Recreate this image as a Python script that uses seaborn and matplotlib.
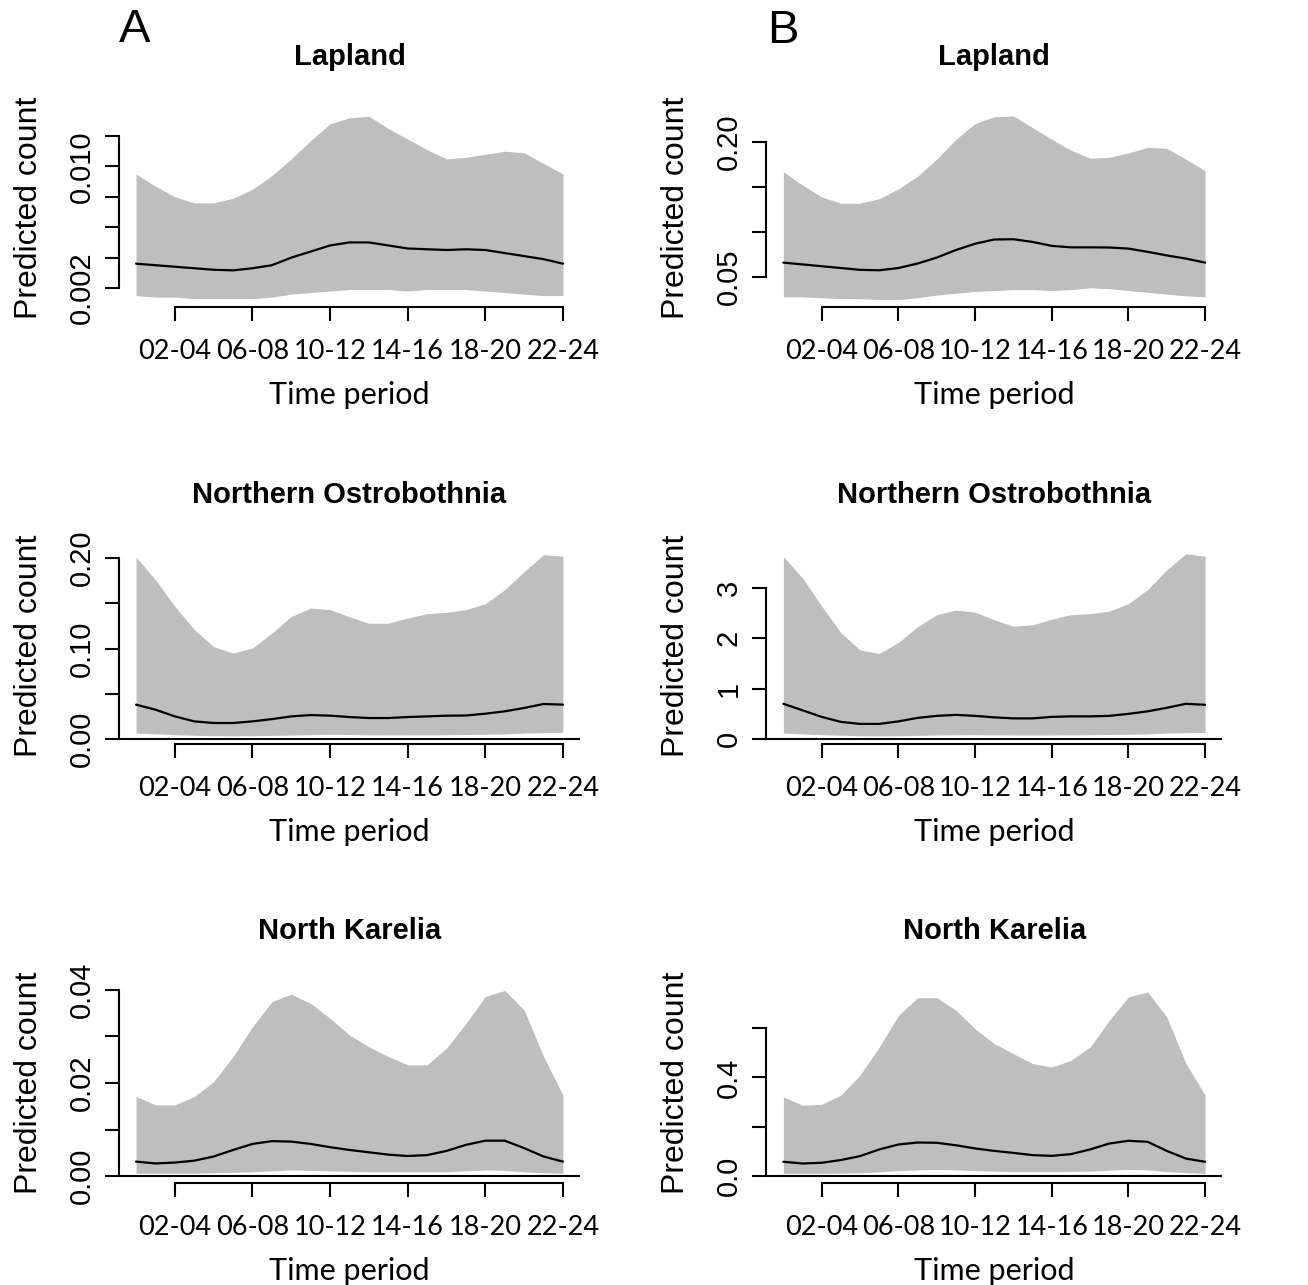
import matplotlib
matplotlib.use("Agg")
import matplotlib.pyplot as plt
import seaborn as sns

# time period index: 1 = 00-02, 2 = 02-04, ... 12 = 22-24 (read at half steps)
periods = [1, 1.5, 2, 2.5, 3, 3.5, 4, 4.5, 5, 5.5, 6, 6.5,
           7, 7.5, 8, 8.5, 9, 9.5, 10, 10.5, 11, 11.5, 12]
period_ticks = [2, 4, 6, 8, 10, 12]
period_labels = ["02-04", "06-08", "10-12", "14-16", "18-20", "22-24"]
regions = ["Lapland", "Northern Ostrobothnia", "North Karelia"]

# --- column A ---
lap_a_mean = [0.0036, 0.0035, 0.0034, 0.0033, 0.0032, 0.00316, 0.0033, 0.0035, 0.0040, 0.0044, 0.0048, 0.0050,
              0.0050, 0.0048, 0.0046, 0.00455, 0.0045, 0.00455, 0.0045, 0.0043, 0.0041, 0.0039, 0.0036]
lap_a_upper = [0.0095, 0.0087, 0.0080, 0.0076, 0.0076, 0.0079, 0.0085, 0.0094, 0.0105, 0.0117, 0.0128, 0.0132,
               0.0133, 0.0125, 0.0118, 0.0111, 0.0105, 0.0106, 0.0108, 0.0110, 0.0109, 0.0102, 0.0095]
lap_a_lower = [0.0015, 0.0014, 0.0014, 0.0013, 0.0013, 0.0013, 0.0013, 0.0014, 0.0016, 0.0017, 0.0018, 0.0019,
               0.0019, 0.0019, 0.0018, 0.0019, 0.0019, 0.0019, 0.0018, 0.0017, 0.0016, 0.0015, 0.0015]

no_a_mean = [0.038, 0.0324, 0.025, 0.0195, 0.0177, 0.0177, 0.0195, 0.022, 0.025, 0.0265, 0.0258, 0.0243,
             0.0232, 0.0232, 0.0243, 0.025, 0.0258, 0.026, 0.028, 0.0306, 0.0343, 0.0387, 0.038]
no_a_upper = [0.201, 0.176, 0.1466, 0.121, 0.102, 0.095, 0.1006, 0.117, 0.1355, 0.1447, 0.143, 0.135,
              0.128, 0.128, 0.1337, 0.1385, 0.140, 0.143, 0.1495, 0.165, 0.185, 0.2037, 0.202]
no_a_lower = [0.0066, 0.0057, 0.0048, 0.0042, 0.0037, 0.0036, 0.0037, 0.0040, 0.0044, 0.0048, 0.0052, 0.0050,
              0.0046, 0.0045, 0.0045, 0.0046, 0.0048, 0.0050, 0.0052, 0.0056, 0.0066, 0.0070, 0.0074]

nk_a_mean = [0.0031, 0.0027, 0.0029, 0.0033, 0.0042, 0.0056, 0.0069, 0.0075, 0.0074, 0.0069, 0.0062, 0.0056,
             0.0051, 0.0046, 0.0043, 0.0045, 0.0054, 0.0067, 0.0076, 0.0076, 0.0060, 0.0042, 0.0031]
nk_a_upper = [0.0171, 0.0153, 0.0153, 0.0171, 0.0203, 0.0257, 0.0321, 0.0375, 0.0391, 0.0371, 0.0339, 0.0303,
              0.0278, 0.0257, 0.0239, 0.0239, 0.0275, 0.0328, 0.0386, 0.0399, 0.0357, 0.0257, 0.0174]
nk_a_lower = [0.0006, 0.0006, 0.0006, 0.0006, 0.0007, 0.0008, 0.0009, 0.0011, 0.0013, 0.0012, 0.0011, 0.0010,
              0.0009, 0.0009, 0.0009, 0.0009, 0.0009, 0.0011, 0.0013, 0.0012, 0.0009, 0.0007, 0.0006]

# --- column B ---
lap_b_mean = [0.066, 0.064, 0.062, 0.060, 0.058, 0.0575, 0.060, 0.065, 0.0716, 0.080, 0.087, 0.0917,
              0.092, 0.089, 0.0846, 0.083, 0.083, 0.0828, 0.0816, 0.078, 0.074, 0.0705, 0.066]
lap_b_upper = [0.167, 0.152, 0.139, 0.132, 0.132, 0.137, 0.148, 0.162, 0.181, 0.203, 0.2205, 0.228,
               0.229, 0.216, 0.203, 0.191, 0.182, 0.183, 0.188, 0.194, 0.193, 0.181, 0.168]
lap_b_lower = [0.028, 0.028, 0.027, 0.026, 0.026, 0.025, 0.025, 0.027, 0.030, 0.032, 0.034, 0.035,
               0.036, 0.036, 0.035, 0.036, 0.038, 0.037, 0.035, 0.033, 0.031, 0.029, 0.028]

no_b_mean = [0.70, 0.57, 0.44, 0.34, 0.30, 0.30, 0.35, 0.42, 0.46, 0.48, 0.46, 0.43,
             0.41, 0.41, 0.44, 0.45, 0.45, 0.46, 0.50, 0.55, 0.62, 0.70, 0.68]
no_b_upper = [3.62, 3.20, 2.64, 2.11, 1.77, 1.70, 1.92, 2.23, 2.47, 2.56, 2.52, 2.37,
              2.24, 2.27, 2.38, 2.47, 2.49, 2.54, 2.69, 2.97, 3.36, 3.68, 3.63]
no_b_lower = [0.12, 0.10, 0.086, 0.075, 0.066, 0.064, 0.066, 0.072, 0.08, 0.085, 0.086, 0.083,
              0.08, 0.08, 0.08, 0.082, 0.086, 0.09, 0.093, 0.10, 0.12, 0.125, 0.13]

nk_b_mean = [0.058, 0.051, 0.054, 0.065, 0.081, 0.108, 0.128, 0.136, 0.135, 0.125, 0.112, 0.102,
             0.094, 0.085, 0.082, 0.089, 0.108, 0.132, 0.143, 0.139, 0.102, 0.071, 0.058]
nk_b_upper = [0.321, 0.287, 0.291, 0.328, 0.409, 0.523, 0.651, 0.723, 0.723, 0.672, 0.597, 0.537,
              0.496, 0.456, 0.442, 0.469, 0.523, 0.631, 0.726, 0.746, 0.645, 0.456, 0.328]
nk_b_lower = [0.011, 0.011, 0.011, 0.012, 0.013, 0.017, 0.022, 0.025, 0.027, 0.025, 0.022, 0.020,
              0.018, 0.018, 0.018, 0.019, 0.020, 0.024, 0.027, 0.025, 0.018, 0.014, 0.011]

# y ticks and their labels (R dropped some labels)
lap_a_yticks = [0.002, 0.004, 0.006, 0.008, 0.010, 0.012]
lap_a_ylabels = ["0.002", "", "", "", "0.010", ""]
no_a_yticks = [0.0, 0.05, 0.10, 0.15, 0.20]
no_a_ylabels = ["0.00", "", "0.10", "", "0.20"]
nk_a_yticks = [0.0, 0.01, 0.02, 0.03, 0.04]
nk_a_ylabels = ["0.00", "", "0.02", "", "0.04"]
lap_b_yticks = [0.05, 0.10, 0.15, 0.20]
lap_b_ylabels = ["0.05", "", "", "0.20"]
no_b_yticks = [0, 1, 2, 3]
no_b_ylabels = ["0", "1", "2", "3"]
nk_b_yticks = [0.0, 0.2, 0.4, 0.6]
nk_b_ylabels = ["0.0", "", "0.4", ""]

W, H = 1308, 1285
sns.set_style("ticks")
plt.rcParams["font.family"] = ["Liberation Sans", "DejaVu Sans"]
plt.rcParams.update({
    "text.color": "black",
    "axes.edgecolor": "black",
    "xtick.color": "black",
    "ytick.color": "black",
    "axes.labelcolor": "black",
})

fig = plt.figure(figsize=(W / 100, H / 100), dpi=100)

# pixel layout: (left, right) per column, (top, bottom) per row, ylim per panel
cols = [(119, 580), (766.5, 1222)]
rows = [(109, 307), (547, 744), (983, 1183)]
panels = [
    (0, 0, lap_a_mean, lap_a_lower, lap_a_upper, lap_a_yticks, lap_a_ylabels, (0.00075, 0.01378)),
    (1, 0, no_a_mean, no_a_lower, no_a_upper, no_a_yticks, no_a_ylabels, (-0.0055, 0.2122)),
    (2, 0, nk_a_mean, nk_a_lower, nk_a_upper, nk_a_yticks, nk_a_ylabels, (-0.0015, 0.0415)),
    (0, 1, lap_b_mean, lap_b_lower, lap_b_upper, lap_b_yticks, lap_b_ylabels, (0.0167, 0.2367)),
    (1, 1, no_b_mean, no_b_lower, no_b_upper, no_b_yticks, no_b_ylabels, (-0.099, 3.815)),
    (2, 1, nk_b_mean, nk_b_lower, nk_b_upper, nk_b_yticks, nk_b_ylabels, (-0.028, 0.7825)),
]

for r, c, mean, lower, upper, yticks, ylabels, ylim in panels:
    left, right = cols[c]
    top, bottom = rows[r]
    ax = fig.add_axes([left / W, 1 - bottom / H, (right - left) / W, (bottom - top) / H])

    ax.fill_between(periods, lower, upper, color="#BEBEBE", linewidth=0)
    sns.lineplot(x=periods, y=mean, ax=ax, color="black", linewidth=1.6)
    ax.axhline(0, color="black", linewidth=1.5)

    ax.set_xlim(0.56, 12.44)
    ax.set_ylim(*ylim)
    ax.set_xlabel("")
    ax.set_ylabel("")

    ax.set_xticks(period_ticks, period_labels, fontfamily="Lato", fontsize=19.5)
    ax.set_yticks(yticks, ylabels, fontsize=21)
    for lab in ax.get_yticklabels():
        lab.set_rotation(90)
        lab.set_va("center")
    ax.tick_params(axis="x", bottom=True, length=10, width=1.5, pad=13, direction="out")
    ax.tick_params(axis="y", left=True, length=10, width=1.5, pad=7, direction="out")

    for side in ["top", "right"]:
        ax.spines[side].set_visible(False)
    ax.spines["left"].set_bounds(yticks[0], yticks[-1])
    ax.spines["bottom"].set_bounds(period_ticks[0], period_ticks[-1])
    ax.spines["left"].set_linewidth(1.5)
    ax.spines["bottom"].set_linewidth(1.5)

    cx = (left + right) / 2
    fig.text(cx / W, 1 - (top - 52) / H, regions[r], fontsize=21, fontweight="bold",
             ha="center", va="center")
    fig.text(cx / W, 1 - (bottom + 88) / H, "Time period", fontfamily="Lato", fontsize=22,
             ha="center", va="center")
    fig.text((left - 90) / W, 1 - ((top + bottom) / 2) / H, "Predicted count", fontsize=23,
             rotation=90, ha="center", va="center")

fig.text(135 / W, 1 - 30 / H, "A", fontsize=34, ha="center", va="center")
fig.text(783 / W, 1 - 31 / H, "B", fontsize=34, ha="center", va="center")

fig.savefig("out.png", dpi=100)
